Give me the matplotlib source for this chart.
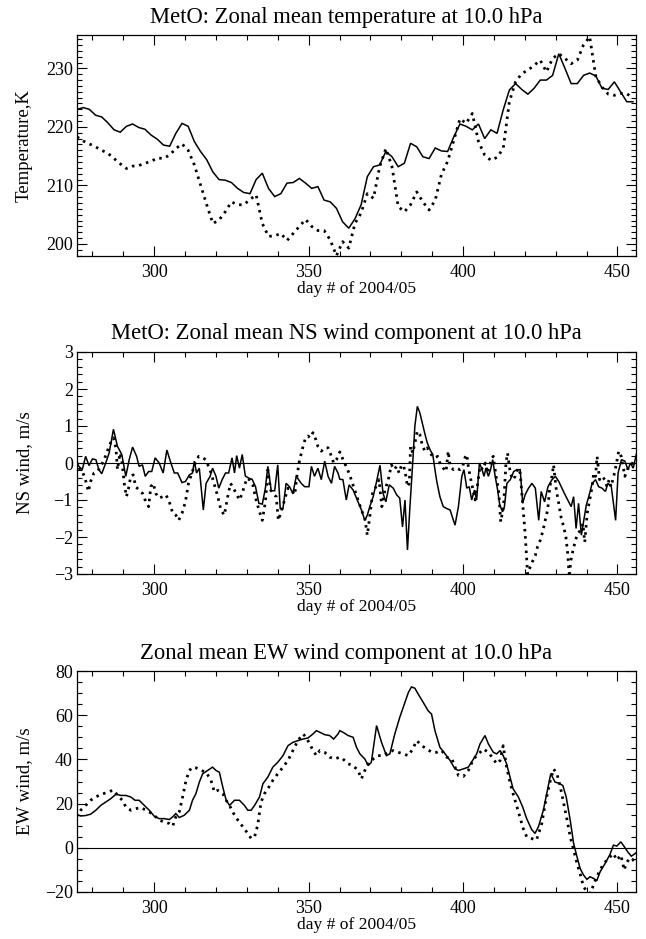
import numpy as np
import matplotlib
matplotlib.use("Agg")
import matplotlib.pyplot as plt
from matplotlib.ticker import MultipleLocator

plt.rcParams['font.family'] = ['Liberation Serif', 'DejaVu Serif']

# ---------------- data ----------------
days_T = np.arange(275, 456, 2)
temp_solid = [223.0, 223.3, 223.0, 222.0, 221.7, 220.7, 219.5, 219.1, 220.1, 220.5,
              219.9, 219.6, 218.6, 217.9, 216.9, 216.7, 218.9, 220.6, 220.1, 217.5,
              215.8, 214.4, 212.3, 211.0, 210.9, 210.5, 209.5, 208.8, 208.6, 211.0,
              212.1, 209.5, 208.1, 208.6, 210.4, 210.5, 211.2, 210.4, 209.5, 209.8,
              207.5, 207.2, 206.1, 203.8, 202.7, 204.3,
              206.7, 211.5, 213.2, 213.5, 215.8, 214.9, 213.2, 213.8, 217.2, 216.6,
              214.9, 214.6, 216.4, 215.9, 215.8, 218.3, 220.5, 220.1, 219.5, 220.5,
              218.0, 219.5, 218.9, 222.9, 226.3, 227.4, 226.4, 225.6, 226.6, 228.0,
              228.0, 228.8, 232.5, 230.0, 227.4, 227.4, 228.8, 229.2, 228.7, 226.6,
              226.4, 227.7, 226.0, 224.3, 224.3]
temp_dotted = [218.3, 217.6, 217.1, 216.6, 216.0, 215.5, 214.6, 213.7, 212.9, 213.3,
               213.4, 213.8, 214.1, 214.7, 214.6, 215.2, 216.3, 217.1, 216.0, 213.5,
               210.1, 206.7, 203.5, 204.1, 205.5, 207.2, 206.7, 206.7, 207.6, 208.4,
               203.5, 201.3, 201.4, 201.8, 200.6, 201.8, 203.0, 204.2, 203.0, 202.3,
               202.3, 200.7, 198.0, 200.4, 199.3, 203.5,
               205.3, 208.6, 207.8, 213.2, 216.3, 213.2, 206.4, 205.5, 206.7, 208.9,
               207.2, 205.8, 207.5, 211.9, 214.1, 217.7, 221.4, 220.6, 222.3, 217.5,
               215.2, 214.3, 214.8, 216.3, 224.3, 227.7, 229.1, 229.7, 230.5, 231.4,
               229.4, 231.7, 232.5, 231.7, 230.8, 231.4, 234.0, 235.4, 228.6, 226.8,
               225.6, 225.4, 225.7, 225.7, 224.9]

ns_solid_days = [274.8, 275.6, 276.7, 277.8, 278.9, 280.0, 281.1, 282.1, 283.0, 284.3,
                 285.4, 286.8, 288.1, 289.5, 290.8, 291.9, 293.0, 294.3, 295.1, 296.2,
                 297.1, 298.2, 299.2, 300.3, 301.6, 302.9, 304.1, 305.4, 306.5, 307.6,
                 309.0, 310.1, 311.4, 312.4, 313.0, 313.7, 314.6, 315.9, 316.8, 318.1,
                 318.9, 320.0, 320.9, 322.0, 323.1, 324.1, 325.2, 326.0, 326.7, 327.6,
                 328.5, 329.5, 330.6, 331.7, 332.8, 333.9, 335.0, 336.0, 336.8, 337.9,
                 339.0, 340.0, 340.8, 341.7, 342.7, 343.8, 344.9, 346.0, 347.6, 348.7,
                 350.1, 350.9, 351.9, 353.0, 354.1, 355.2, 356.3, 357.4, 358.4, 359.5,
                 360.1, 361.1, 362.2, 363.1, 364.4, 366.0, 367.1, 368.2, 369.0, 369.8,
                 370.9, 372.0, 373.1, 374.1, 375.0, 376.1, 377.4, 378.5, 379.5, 380.4,
                 381.2, 382.0, 382.8, 383.7, 384.4, 385.2, 386.0, 386.9, 387.7, 388.4,
                 389.3, 390.2, 390.9, 391.5, 392.5, 393.6, 394.7, 395.8, 396.9, 397.4,
                 398.5, 399.6, 400.3, 401.2, 402.0, 402.8, 403.7, 404.4, 405.3, 406.0,
                 406.8, 407.4, 408.2, 408.9, 409.6, 410.4, 411.1, 411.9, 412.8, 413.4,
                 414.2, 415.3, 416.4, 417.4, 418.5, 419.3, 420.1, 421.2, 422.3, 423.4,
                 424.5, 425.3, 426.4, 427.5, 428.8, 429.9, 431.0, 431.8, 432.8, 433.9,
                 435.0, 435.8, 436.6, 437.4, 438.3, 439.1, 439.9, 440.7, 441.8, 442.9,
                 443.9, 445.0, 446.1, 446.9, 448.0, 449.4, 450.2, 451.3, 452.4, 453.4,
                 454.2, 455.1, 456.2]
ns_solid = [0.05, -0.09, -0.18, 0.18, -0.07, 0.11, 0.09, -0.18, -0.29, 0.0,
            0.27, 0.91, 0.45, 0.23, -0.36, 0.09, 0.43, 0.18, -0.09, -0.05,
            -0.36, -0.23, -0.23, 0.14, 0.0, -0.27, 0.35, 0.0, -0.27, -0.27,
            -0.53, -0.5, -0.32, -0.27, 0.05, -0.27, -0.14, -1.27, -0.55, -0.36,
            -0.14, -0.36, -0.68, -0.45, -0.27, -0.27, 0.14, -0.27, 0.2, -0.14,
            0.23, -0.35, -0.41, -0.44, -0.64, -1.09, -1.11, -0.68, -0.09, -0.75,
            -0.75, -0.05, -1.23, -1.23, -0.55, -0.64, -0.82, -0.36, -0.55, -0.64,
            -0.64, -0.09, -0.36, -0.14, -0.45, 0.05, -0.36, -0.55, -0.09, -0.27,
            -0.44, -0.45, -1.0, -0.59, -0.73, -1.05, -1.27, -1.55, -1.41, -1.18,
            -0.91, -0.5, -0.06, -0.82, -1.05, -0.59, -0.68, -0.86, -0.95, -1.73,
            -1.0, -2.35, -1.18, 0.0, 1.0, 1.53, 1.36, 1.05, 0.77, 0.55,
            0.36, 0.23, -0.18, -0.5, -0.91, -1.18, -1.23, -1.27, -1.55, -1.68,
            -1.18, -0.36, -0.18, -0.68, -0.64, -1.0, -0.73, -1.0, 0.0, -0.14,
            -0.36, -0.14, -0.36, -0.18, 0.09, -0.36, -0.68, -1.14, -1.32, -1.18,
            -0.55, -0.45, -0.23, -0.18, -0.18, -1.09, -0.86, -0.68, -0.55, -0.68,
            -1.55, -0.77, -1.05, -0.64, -0.45, -0.36, -0.5, -0.64, -0.82, -1.0,
            -1.18, -0.91, -1.77, -1.09, -1.95, -1.55, -1.14, -0.91, -0.55, -0.45,
            -0.64, -0.68, -0.77, -0.55, -0.64, -1.55, -0.27, 0.09, 0.05, -0.18,
            0.0, -0.14, 0.27]

ns_dotted_days = [274.8, 275.6, 276.5, 277.6, 278.7, 279.4, 280.5, 281.6, 282.7, 283.8,
                  284.8, 285.9, 286.8, 287.6, 288.1, 288.9, 289.5, 290.3, 291.0, 291.7,
                  292.4, 293.2, 294.0, 295.1, 296.2, 297.3, 298.2, 298.9, 299.7, 300.5,
                  301.6, 302.7, 303.8, 304.9, 306.0, 307.0, 307.9, 309.0, 310.1, 311.1,
                  312.2, 313.3, 314.4, 315.5, 316.6, 317.6, 318.4, 319.5, 320.6, 321.6,
                  322.7, 323.8, 324.7, 325.4, 326.5, 327.6, 328.5, 329.3, 330.1, 330.8,
                  331.9, 333.0, 334.1, 335.0, 336.0, 336.8, 337.7, 338.4, 339.5, 340.2,
                  341.1, 342.2, 343.3, 344.4, 345.5, 346.2, 347.1, 348.2, 349.0, 349.8,
                  350.5, 351.4, 352.3, 353.0, 354.1, 355.2, 356.3, 357.4, 358.1, 359.0,
                  360.1, 361.1, 362.2, 363.2, 364.4, 366.0, 367.1, 368.2, 369.0, 369.8,
                  370.7, 371.8, 372.8, 373.7, 374.7, 375.8, 376.8, 377.7, 378.5, 379.3,
                  380.1, 380.8, 381.5, 382.0, 382.6, 383.0, 383.7, 384.3, 385.2, 386.0,
                  386.9, 387.7, 388.4, 389.3, 390.2, 390.9, 391.8, 392.5, 393.6, 394.5,
                  395.2, 395.8, 396.9, 397.9, 399.0, 399.9, 400.6, 401.2, 401.7, 402.2,
                  403.1, 403.9, 404.6, 405.5, 406.4, 407.2, 407.9, 408.5, 409.3, 409.8,
                  410.7, 411.5, 412.2, 413.1, 413.9, 414.4, 415.3, 416.1, 416.9, 417.8,
                  418.5, 419.4, 420.1, 420.9, 421.7, 422.6, 423.4, 424.1, 425.0, 425.9,
                  426.6, 427.4, 428.1, 428.8, 429.3, 430.2, 430.9, 431.7, 432.6, 433.3,
                  433.9, 434.4, 434.9, 435.6, 436.4, 437.1, 438.0, 438.8, 439.4, 440.2,
                  441.0, 441.8, 442.3, 442.9, 443.4, 444.2, 445.0, 445.9, 446.6, 447.3,
                  447.9, 448.8, 449.7, 450.4, 451.2, 451.8, 452.4, 453.1, 454.2, 455.3]
ns_dotted = [0.05, -0.14, -0.18, -0.41, -0.77, -0.5, -0.27, -0.23, -0.09, 0.09,
             0.32, 0.55, 0.68, 0.41, -0.18, 0.27, 0.09, -0.55, -0.91, -0.68,
             -0.36, -0.32, -0.64, -0.73, -0.82, -1.05, -1.18, -0.64, -0.55, -0.82,
             -0.95, -0.91, -0.86, -1.05, -1.36, -1.41, -1.55, -1.36, -1.05, -0.55,
             -0.27, 0.0, 0.18, 0.16, 0.09, -0.09, -0.27, -0.59, -0.91, -1.27,
             -1.41, -0.91, -0.55, -0.64, -0.82, -1.0, -0.82, -0.59, -0.41, -0.45,
             -0.59, -1.0, -1.32, -1.55, -1.05, -0.18, -0.73, -0.82, -0.91, -1.55,
             -1.32, -1.0, -0.68, -0.73, -0.86, -0.36, 0.09, 0.45, 0.68, 0.73,
             0.68, 0.82, 0.64, 0.45, 0.32, 0.41, 0.41, 0.18, 0.0, 0.09,
             0.3, 0.1, -0.1, -0.3, -0.6, -1.0, -1.27, -1.5, -1.95, -1.45,
             -0.82, -0.64, -0.45, -1.18, -0.73, -0.45, -0.05, -0.18, -0.09, -0.27,
             -0.05, -0.09, -0.36, -0.64, -0.55, 0.45, 0.27, 0.5, 0.86, 0.77,
             0.45, 0.32, 0.41, 0.27, 0.18, 0.14, 0.18, 0.0, -0.14, -0.23,
             0.32, -0.09, -0.18, -0.14, -0.18, -0.09, 0.14, 0.23, -0.09, -0.32,
             -0.68, -1.0, -0.64, -0.09, -0.18, 0.0, -0.27, -0.09, 0.14, 0.18,
             -0.36, -0.73, -1.59, -1.18, 0.0, 0.27, -0.27, -0.45, -0.36, -0.14,
             -0.27, -1.18, -1.91, -3.0, -2.82, -2.64, -2.5, -2.27, -2.09, -1.82,
             -1.55, -1.27, -0.64, -0.36, -0.05, -0.73, -1.05, -1.45, -1.73, -2.0,
             -2.45, -3.09, -2.64, -2.36, -2.09, -1.91, -1.82, -1.64, -2.14, -1.36,
             -1.0, -0.64, -0.27, -0.36, 0.18, -0.45, -0.36, -0.45, -0.64, -0.45,
             -0.64, -0.36, 0.0, 0.32, 0.18, -0.09, -0.36, -0.18, -0.09, 0.05]

ew_solid_days = [274.8, 276.2, 277.8, 279.4, 281.1, 282.7, 284.3, 285.9, 287.6, 289.2,
                 290.8, 292.4, 293.8, 295.1, 296.8, 298.4, 300.0, 301.6, 303.2, 304.9,
                 306.0, 307.0, 308.1, 309.7, 311.4, 312.4, 313.5, 314.6, 315.7, 317.3,
                 318.9, 320.0, 321.1, 322.2, 323.3, 324.4, 326.0, 327.6, 329.2, 330.3,
                 331.4, 332.5, 334.1, 335.2, 336.8, 338.4, 340.0, 341.7, 343.3, 344.9,
                 346.5, 348.2, 349.8, 351.4, 352.5, 353.6, 355.2, 356.8, 358.1, 359.5,
                 360.1, 361.1, 362.8, 364.4, 365.5, 366.6, 368.2, 369.3, 370.3, 372.0,
                 373.6, 375.2, 376.3, 377.9, 379.5, 381.2, 382.3, 383.3, 384.4, 385.5,
                 387.1, 388.7, 389.8, 390.9, 392.5, 394.2, 395.8, 397.4, 398.5, 400.1,
                 401.7, 403.4, 404.4, 405.5, 407.1, 408.2, 409.8, 410.9, 412.0, 413.0,
                 414.1, 415.2, 416.2, 417.9, 419.3, 420.6, 422.2, 423.3, 424.4, 426.0,
                 427.1, 428.4, 429.8, 430.9, 432.3, 433.4, 434.7, 435.8, 436.9, 437.9,
                 439.0, 440.1, 441.1, 442.2, 443.3, 444.4, 446.0, 447.6, 448.7, 449.8,
                 451.1, 452.2, 453.3, 454.5, 456.0]
ew_solid = [15.2, 14.4, 14.6, 15.2, 17.0, 19.2, 20.7, 22.2, 24.2, 23.7,
            23.7, 23.0, 21.5, 21.5, 19.2, 17.0, 14.3, 13.2, 13.2, 12.8,
            14.0, 15.5, 13.7, 14.7, 17.0, 21.5, 24.5, 29.7, 33.5, 35.0,
            36.5, 35.0, 34.2, 27.5, 21.5, 19.2, 21.5, 21.5, 19.2, 17.0,
            17.0, 19.2, 23.0, 29.0, 32.0, 36.5, 38.7, 41.7, 46.2, 47.7,
            48.5, 49.2, 49.7, 51.5, 53.0, 52.3, 51.2, 50.8, 49.2, 51.5,
            53.0, 52.3, 50.8, 50.0, 45.5, 42.5, 40.2, 37.2, 38.7, 55.3,
            47.7, 41.7, 42.5, 51.5, 59.0, 65.8, 70.3, 72.8, 72.2, 69.5,
            65.8, 62.0, 60.5, 53.0, 45.5, 42.5, 39.5, 35.7, 35.0, 35.7,
            36.5, 40.2, 42.5, 47.0, 50.8, 47.0, 43.2, 42.5, 44.0, 41.7,
            38.0, 32.0, 26.7, 23.0, 18.5, 13.2, 8.3, 6.5, 9.5, 17.0,
            24.5, 33.5, 29.7, 29.3, 28.2, 23.0, 12.5, 2.0, -4.1, -9.3,
            -12.3, -14.3, -13.1, -13.8, -14.9, -10.8, -7.1, -2.9, 1.2, 0.8,
            2.7, 0.5, -1.8, -3.8, -2.3]

ew_dotted_days = [274.8, 276.2, 277.8, 279.4, 281.1, 282.7, 284.3, 285.9, 287.0, 288.1,
                  289.7, 290.8, 292.4, 294.0, 295.7, 297.3, 298.4, 300.0, 301.6, 303.2,
                  304.9, 306.0, 307.0, 308.1, 309.2, 310.3, 311.4, 312.4, 313.5, 315.2,
                  316.8, 318.4, 319.5, 320.6, 322.2, 323.3, 324.4, 325.4, 327.1, 328.7,
                  330.3, 331.4, 332.5, 333.5, 334.6, 335.7, 336.8, 338.4, 340.0, 341.7,
                  343.3, 344.9, 346.5, 348.2, 349.2, 350.9, 352.5, 353.6, 355.2, 356.8,
                  358.4,
                  360.1, 361.1, 362.8, 364.4, 366.0, 367.1, 368.2, 369.3, 370.9, 372.5,
                  374.1, 375.8, 377.4, 379.0, 380.6, 382.3, 383.7, 385.0, 386.6, 388.3,
                  389.9, 391.5, 393.1, 394.7, 396.4, 397.4, 398.5, 400.1, 401.7, 403.4,
                  405.0, 406.6, 408.2, 409.8, 410.9, 412.0, 413.0, 414.1, 415.2, 416.2,
                  417.3, 418.4, 419.5, 420.6, 422.2, 423.8, 425.5, 426.6, 428.0, 429.3,
                  430.4, 431.5, 432.6, 433.7, 434.7, 435.8, 436.9, 437.9, 439.0, 440.1,
                  441.4, 442.2, 443.3, 444.4, 445.5, 446.6, 447.6, 448.7, 449.8, 451.1,
                  452.2, 452.8, 453.9, 455.0, 456.0]
ew_dotted = [14.0, 17.0, 19.2, 21.5, 23.0, 24.2, 24.8, 25.7, 26.0, 23.7,
             21.5, 18.5, 17.0, 17.7, 18.2, 17.0, 16.2, 14.7, 12.5, 11.7,
             11.0, 9.8, 14.0, 16.2, 23.0, 30.5, 35.0, 36.5, 36.2, 35.0,
             34.2, 30.5, 25.2, 26.0, 24.5, 21.5, 19.2, 16.2, 12.5, 9.5,
             6.5, 4.2, 5.0, 10.2, 20.7, 24.5, 26.7, 30.5, 33.5, 36.5,
             39.5, 44.0, 48.5, 51.5, 50.0, 45.5, 41.7, 44.0, 43.2, 41.0,
             40.2,
             41.0, 40.2, 38.0, 37.2, 35.0, 31.2, 35.0, 38.0, 40.2, 41.7,
             41.7, 43.2, 44.0, 43.2, 42.5, 41.7, 44.7, 48.5, 46.2, 44.7,
             43.2, 43.2, 44.0, 41.0, 40.2, 36.5, 32.7, 32.3, 35.0, 40.2,
             42.5, 44.7, 43.2, 40.2, 38.0, 39.5, 46.2, 36.5, 29.7, 24.5,
             19.2, 14.0, 8.7, 5.0, 4.2, 3.5, 11.0, 20.0, 29.0, 35.7,
             33.5, 27.5, 20.0, 12.5, 5.0, -1.1, -7.1, -11.6, -17.6, -19.8,
             -20.6, -16.8, -13.1, -10.1, -7.1, -5.6, -4.1, -2.6, -5.6, -3.3,
             -10.1, -7.1, -4.8, -5.6, -3.3]

titles = ["MetO: Zonal mean temperature at 10.0 hPa",
          "MetO: Zonal mean NS wind component at 10.0 hPa",
          "Zonal mean EW wind component at 10.0 hPa"]
ylabels = ["Temperature,K", "NS wind, m/s", "EW wind, m/s"]
xlabel = "day # of 2004/05"

# ---------------- figure ----------------
W, H = 646, 939
fig = plt.figure(figsize=(W / 100, H / 100), dpi=100)

def box(l, t, r, b):
    return [l / W, 1 - b / H, (r - l) / W, (b - t) / H]

ax1 = fig.add_axes(box(77, 35, 636, 256))
ax2 = fig.add_axes(box(77, 352, 636, 574))
ax3 = fig.add_axes(box(77, 671, 636, 892))

FS_TICK = 13
FS_XLAB = 12.6
FS_YLAB = 13.5
FS_TITLE = 16.3
solid_kw = dict(color='black', lw=1.1, solid_joinstyle='miter')
dot_kw = dict(color='black', lw=2.0, linestyle=(0, (0.9, 1.7)))

def style(ax, title, ylabel, ymajor, yminor):
    ax.set_xlim(275, 456)
    ax.xaxis.set_major_locator(MultipleLocator(50))
    ax.xaxis.set_minor_locator(MultipleLocator(10))
    ax.yaxis.set_major_locator(MultipleLocator(ymajor))
    ax.yaxis.set_minor_locator(MultipleLocator(yminor))
    ax.tick_params(which='both', direction='in', top=True, right=True,
                   labelsize=FS_TICK, width=0.8)
    ax.tick_params(which='major', length=7)
    ax.tick_params(which='minor', length=3.5)
    ax.tick_params(axis='x', pad=6)
    ax.tick_params(axis='y', pad=3)
    for s in ax.spines.values():
        s.set_linewidth(0.9)
    ax.set_title(title, fontsize=FS_TITLE, pad=9, x=0.481)
    ax.set_xlabel(xlabel, fontsize=FS_XLAB, labelpad=0)
    ax.set_ylabel(ylabel, fontsize=FS_YLAB)
    ax.yaxis.set_label_coords(-0.079, 0.5)

ax1.plot(days_T, temp_solid, **solid_kw)
ax1.plot(days_T, temp_dotted, **dot_kw)
ax1.set_ylim(197.95, 235.7)
style(ax1, titles[0], ylabels[0], 10, 1)

ax2.plot(ns_solid_days, ns_solid, **solid_kw)
ax2.plot(ns_dotted_days, ns_dotted, **dot_kw)
ax2.axhline(0, color='black', lw=0.8)
ax2.set_ylim(-3, 3)
style(ax2, titles[1], ylabels[1], 1, 0.2)

ax3.plot(ew_solid_days, ew_solid, **solid_kw)
ax3.plot(ew_dotted_days, ew_dotted, **dot_kw)
ax3.axhline(0, color='black', lw=0.8)
ax3.set_ylim(-20, 80)
style(ax3, titles[2], ylabels[2], 20, 5)

fig.savefig("out.png", dpi=100)
